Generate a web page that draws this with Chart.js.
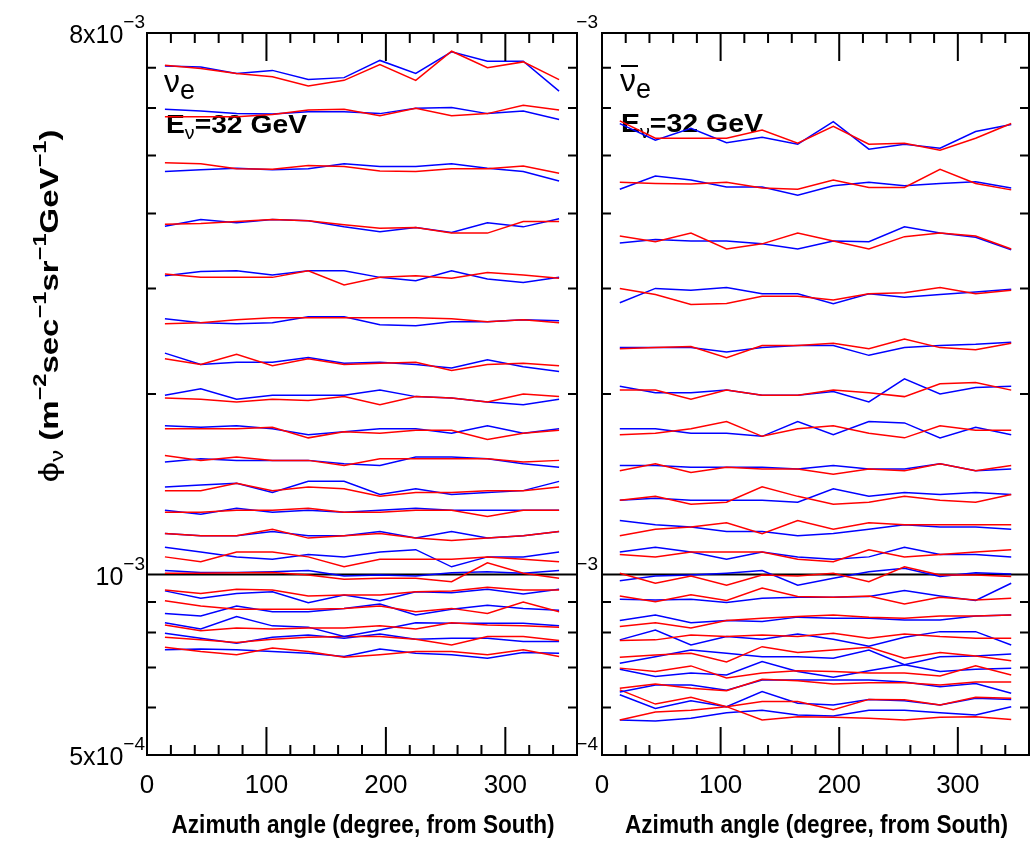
<!DOCTYPE html>
<html>
<head>
<meta charset="utf-8">
<script src="https://cdn.jsdelivr.net/npm/chart.js@4.4.0/dist/chart.umd.min.js"></script>
<style>
  body { margin: 0; background: #fff; }
  #wrap { position: relative; width: 1030px; height: 842px; }
  #wrap canvas { position: absolute; left: 0; top: 0; }
</style>
</head>
<body>
<div id="wrap">
  <canvas id="nue" width="1030" height="842"></canvas>
  <canvas id="nuebar" width="1030" height="842"></canvas>
</div>
<script>
const azimuth = [15, 45, 75, 105, 135, 165, 195, 225, 255, 285, 315, 345];

// flux values in units of 1e-3 m^-2 sec^-1 sr^-1 GeV^-1, one row per curve
const nueRed = [
  [7.07, 6.98, 6.85, 6.76, 6.53, 6.67, 7.09, 6.67, 7.46, 7.00, 7.16, 6.69],
  [5.80, 5.80, 5.80, 5.85, 5.95, 5.97, 5.82, 5.99, 5.82, 5.87, 6.06, 5.95],
  [4.86, 4.84, 4.75, 4.74, 4.81, 4.79, 4.71, 4.70, 4.75, 4.75, 4.80, 4.67],
  [3.84, 3.85, 3.88, 3.91, 3.89, 3.83, 3.78, 3.79, 3.71, 3.71, 3.88, 3.88],
  [3.17, 3.13, 3.13, 3.13, 3.21, 3.04, 3.13, 3.15, 3.12, 3.19, 3.16, 3.12],
  [2.62, 2.63, 2.66, 2.68, 2.68, 2.68, 2.68, 2.68, 2.67, 2.64, 2.66, 2.63],
  [2.29, 2.24, 2.33, 2.23, 2.29, 2.24, 2.25, 2.26, 2.19, 2.24, 2.25, 2.23],
  [1.97, 1.96, 1.94, 1.96, 1.95, 1.98, 1.92, 1.98, 1.97, 1.94, 2.00, 1.98],
  [1.75, 1.75, 1.75, 1.76, 1.69, 1.73, 1.72, 1.74, 1.74, 1.68, 1.72, 1.74],
  [1.58, 1.55, 1.57, 1.55, 1.55, 1.52, 1.56, 1.56, 1.56, 1.56, 1.54, 1.55],
  [1.38, 1.38, 1.42, 1.38, 1.40, 1.39, 1.35, 1.37, 1.37, 1.38, 1.38, 1.40],
  [1.27, 1.27, 1.28, 1.28, 1.29, 1.27, 1.27, 1.28, 1.28, 1.25, 1.28, 1.28],
  [1.17, 1.16, 1.16, 1.19, 1.15, 1.16, 1.17, 1.15, 1.14, 1.15, 1.16, 1.18],
  [1.07, 1.05, 1.09, 1.09, 1.07, 1.03, 1.06, 1.06, 1.06, 1.07, 1.06, 1.05],
  [1.005, 1.005, 1.007, 1.008, 0.998, 0.982, 0.986, 0.986, 0.973, 1.046, 1.005, 0.986],
  [0.942, 0.930, 0.945, 0.942, 0.921, 0.924, 0.924, 0.936, 0.939, 0.952, 0.942, 0.942],
  [0.904, 0.886, 0.875, 0.875, 0.875, 0.878, 0.886, 0.867, 0.878, 0.861, 0.900, 0.867],
  [0.824, 0.806, 0.814, 0.811, 0.814, 0.814, 0.821, 0.811, 0.831, 0.824, 0.821, 0.817],
  [0.786, 0.778, 0.770, 0.780, 0.786, 0.788, 0.788, 0.780, 0.763, 0.788, 0.788, 0.776],
  [0.756, 0.744, 0.735, 0.754, 0.744, 0.728, 0.735, 0.744, 0.744, 0.735, 0.749, 0.730]
];
const nueBlue = [
  [7.05, 7.02, 6.85, 6.93, 6.69, 6.74, 7.20, 6.85, 7.44, 7.18, 7.18, 6.40],
  [5.97, 5.93, 5.87, 5.86, 5.91, 5.91, 5.87, 5.99, 6.01, 5.87, 5.93, 5.74],
  [4.70, 4.73, 4.76, 4.73, 4.75, 4.84, 4.79, 4.79, 4.84, 4.76, 4.70, 4.53],
  [3.81, 3.91, 3.86, 3.91, 3.89, 3.80, 3.73, 3.79, 3.72, 3.86, 3.80, 3.92],
  [3.15, 3.20, 3.21, 3.16, 3.21, 3.21, 3.13, 3.09, 3.21, 3.11, 3.07, 3.13],
  [2.67, 2.63, 2.62, 2.63, 2.69, 2.69, 2.61, 2.60, 2.64, 2.64, 2.66, 2.65],
  [2.34, 2.24, 2.26, 2.26, 2.30, 2.25, 2.26, 2.24, 2.21, 2.28, 2.22, 2.18],
  [1.99, 2.04, 1.96, 1.99, 1.99, 1.99, 2.03, 1.98, 1.97, 1.94, 1.92, 1.96],
  [1.77, 1.76, 1.77, 1.75, 1.71, 1.73, 1.75, 1.75, 1.72, 1.77, 1.72, 1.75],
  [1.54, 1.56, 1.55, 1.55, 1.55, 1.53, 1.52, 1.57, 1.57, 1.56, 1.53, 1.51],
  [1.40, 1.41, 1.42, 1.37, 1.43, 1.43, 1.36, 1.39, 1.36, 1.37, 1.38, 1.43],
  [1.28, 1.26, 1.29, 1.27, 1.28, 1.27, 1.28, 1.29, 1.28, 1.28, 1.28, 1.28],
  [1.17, 1.16, 1.16, 1.18, 1.16, 1.16, 1.18, 1.15, 1.18, 1.15, 1.16, 1.18],
  [1.11, 1.09, 1.07, 1.06, 1.08, 1.07, 1.09, 1.10, 1.03, 1.07, 1.07, 1.09],
  [1.015, 1.008, 1.008, 1.011, 1.015, 0.994, 0.998, 0.994, 1.007, 1.011, 1.005, 1.015],
  [0.939, 0.913, 0.930, 0.936, 0.897, 0.924, 0.904, 0.936, 0.932, 0.945, 0.928, 0.945],
  [0.861, 0.853, 0.886, 0.867, 0.867, 0.878, 0.893, 0.856, 0.875, 0.889, 0.878, 0.872],
  [0.831, 0.811, 0.851, 0.821, 0.817, 0.788, 0.808, 0.831, 0.829, 0.829, 0.829, 0.821],
  [0.798, 0.783, 0.768, 0.786, 0.793, 0.783, 0.796, 0.780, 0.783, 0.783, 0.773, 0.773],
  [0.749, 0.751, 0.749, 0.744, 0.739, 0.730, 0.751, 0.739, 0.735, 0.725, 0.741, 0.739]
];
const nuebarRed = [
  [5.71, 5.34, 5.34, 5.34, 5.51, 5.24, 5.59, 5.22, 5.24, 5.10, 5.34, 5.65],
  [4.51, 4.49, 4.48, 4.51, 4.41, 4.39, 4.55, 4.42, 4.42, 4.74, 4.49, 4.38],
  [3.67, 3.59, 3.71, 3.49, 3.56, 3.71, 3.60, 3.49, 3.66, 3.71, 3.67, 3.49],
  [3.00, 2.93, 2.82, 2.83, 2.91, 2.91, 2.87, 2.94, 2.95, 3.01, 2.94, 2.98],
  [2.38, 2.39, 2.40, 2.30, 2.41, 2.41, 2.43, 2.38, 2.47, 2.39, 2.37, 2.43],
  [2.03, 2.03, 1.96, 2.03, 1.99, 1.99, 2.03, 2.01, 1.98, 2.08, 2.09, 2.03],
  [1.71, 1.72, 1.75, 1.80, 1.70, 1.75, 1.77, 1.72, 1.69, 1.77, 1.74, 1.74],
  [1.49, 1.53, 1.48, 1.51, 1.50, 1.50, 1.47, 1.50, 1.49, 1.53, 1.49, 1.52],
  [1.33, 1.35, 1.31, 1.32, 1.40, 1.35, 1.31, 1.32, 1.35, 1.33, 1.32, 1.36],
  [1.16, 1.19, 1.20, 1.22, 1.17, 1.23, 1.19, 1.22, 1.21, 1.21, 1.21, 1.21],
  [1.08, 1.07, 1.09, 1.09, 1.09, 1.06, 1.05, 1.10, 1.07, 1.08, 1.09, 1.10],
  [1.005, 0.967, 0.994, 0.960, 0.998, 0.994, 1.005, 0.973, 1.030, 0.998, 0.998, 0.992],
  [0.921, 0.901, 0.925, 0.905, 0.949, 0.919, 0.916, 0.921, 0.893, 0.916, 0.907, 0.913],
  [0.819, 0.831, 0.814, 0.838, 0.845, 0.851, 0.856, 0.849, 0.845, 0.853, 0.853, 0.856],
  [0.776, 0.778, 0.793, 0.788, 0.793, 0.788, 0.798, 0.783, 0.796, 0.788, 0.783, 0.783],
  [0.728, 0.734, 0.739, 0.715, 0.758, 0.741, 0.748, 0.756, 0.725, 0.741, 0.731, 0.718],
  [0.698, 0.689, 0.704, 0.672, 0.685, 0.691, 0.689, 0.685, 0.685, 0.677, 0.704, 0.680],
  [0.646, 0.657, 0.646, 0.640, 0.669, 0.665, 0.657, 0.660, 0.660, 0.654, 0.662, 0.662],
  [0.642, 0.608, 0.624, 0.602, 0.614, 0.614, 0.595, 0.619, 0.618, 0.606, 0.624, 0.622],
  [0.572, 0.590, 0.594, 0.602, 0.572, 0.579, 0.578, 0.576, 0.572, 0.578, 0.579, 0.573]
];
const nuebarBlue = [
  [5.65, 5.30, 5.55, 5.25, 5.36, 5.22, 5.69, 5.12, 5.22, 5.14, 5.48, 5.63],
  [4.39, 4.62, 4.55, 4.43, 4.43, 4.29, 4.45, 4.51, 4.45, 4.49, 4.52, 4.41],
  [3.57, 3.62, 3.60, 3.60, 3.56, 3.49, 3.60, 3.59, 3.80, 3.71, 3.65, 3.48],
  [2.84, 3.00, 2.98, 3.01, 2.94, 2.94, 2.83, 2.94, 2.90, 2.93, 2.96, 2.99],
  [2.39, 2.39, 2.39, 2.35, 2.39, 2.41, 2.41, 2.32, 2.39, 2.41, 2.42, 2.44],
  [2.06, 2.01, 2.01, 2.03, 1.99, 1.99, 2.02, 1.94, 2.12, 2.00, 2.05, 2.06],
  [1.75, 1.75, 1.72, 1.72, 1.70, 1.80, 1.71, 1.80, 1.79, 1.69, 1.76, 1.71],
  [1.52, 1.52, 1.51, 1.51, 1.51, 1.50, 1.52, 1.50, 1.50, 1.53, 1.49, 1.50],
  [1.33, 1.34, 1.33, 1.33, 1.33, 1.32, 1.39, 1.35, 1.37, 1.36, 1.37, 1.36],
  [1.23, 1.21, 1.20, 1.18, 1.18, 1.16, 1.17, 1.19, 1.21, 1.20, 1.20, 1.19],
  [1.09, 1.11, 1.09, 1.06, 1.09, 1.07, 1.06, 1.07, 1.11, 1.08, 1.08, 1.07],
  [0.976, 0.994, 0.998, 1.005, 1.015, 0.960, 0.986, 1.011, 1.024, 0.992, 1.007, 1.002],
  [0.909, 0.907, 0.909, 0.898, 0.913, 0.916, 0.916, 0.919, 0.940, 0.921, 0.905, 0.967],
  [0.838, 0.856, 0.831, 0.838, 0.835, 0.849, 0.845, 0.845, 0.840, 0.840, 0.853, 0.856],
  [0.778, 0.808, 0.763, 0.788, 0.780, 0.796, 0.780, 0.759, 0.786, 0.803, 0.803, 0.763],
  [0.711, 0.729, 0.748, 0.739, 0.729, 0.729, 0.725, 0.748, 0.707, 0.729, 0.731, 0.737],
  [0.695, 0.676, 0.685, 0.680, 0.716, 0.689, 0.674, 0.691, 0.707, 0.689, 0.695, 0.698],
  [0.637, 0.654, 0.654, 0.641, 0.667, 0.667, 0.667, 0.667, 0.662, 0.650, 0.658, 0.634],
  [0.630, 0.598, 0.616, 0.602, 0.638, 0.610, 0.606, 0.619, 0.616, 0.606, 0.622, 0.619],
  [0.572, 0.570, 0.576, 0.588, 0.594, 0.583, 0.581, 0.594, 0.594, 0.588, 0.583, 0.602]
];

const xTickLabels = ['0', '100', '200', '300'];
const yLabelValues = [8e-3, 1e-3, 5e-4];
const yLabelMantissa = ['8x10', '10', '5x10'];
const yLabelExponent = ['\u22123', '\u22123', '\u22124'];
const yMinorTicks = [6e-4, 7e-4, 8e-4, 9e-4, 2e-3, 3e-3, 4e-3, 5e-3, 6e-3, 7e-3];

const FONT = '"Liberation Sans", Arial, Helvetica, sans-serif';
const W = 1030, H = 842;

// draws a row of text pieces [text, font, dy]; optional width stretches it
function drawParts(ctx, parts, x, y, align, width) {
  let w = 0;
  parts.forEach(p => { ctx.font = p[1]; w += ctx.measureText(p[0]).width; });
  const s = width ? width / w : 1;
  ctx.save();
  ctx.translate(x, y);
  ctx.scale(s, 1);
  let cx = align === 'center' ? -w / 2 : align === 'right' ? -w : 0;
  ctx.textAlign = 'left';
  ctx.textBaseline = 'alphabetic';
  ctx.fillStyle = '#000';
  parts.forEach(p => {
    ctx.font = p[1];
    ctx.fillText(p[0], cx, p[2] || 0);
    cx += ctx.measureText(p[0]).width;
  });
  ctx.restore();
}

function drawExponentLabels(chart, withMantissa) {
  const { ctx, chartArea: a, scales: { y } } = chart;
  yLabelValues.forEach((v, i) => {
    const py = y.getPixelForValue(v);
    const parts = [];
    if (withMantissa) parts.push([yLabelMantissa[i], '25px ' + FONT, 0]);
    parts.push([yLabelExponent[i], '19px ' + FONT, -15]);
    drawParts(ctx, parts, a.left - (withMantissa ? 2 : 4), py + 10, 'right');
  });
}

const framePlugin = {
  id: 'frame',
  beforeDatasetsDraw(chart) {
    const { ctx, chartArea: a, scales: { y } } = chart;
    const y0 = y.getPixelForValue(1e-3);
    ctx.save();
    ctx.strokeStyle = '#000';
    ctx.lineWidth = 2;
    ctx.beginPath();
    ctx.moveTo(a.left, y0);
    ctx.lineTo(a.right, y0);
    ctx.stroke();
    ctx.restore();
  },
  afterDatasetsDraw(chart) {
    const { ctx, chartArea: a, scales: { x, y } } = chart;
    ctx.save();
    ctx.strokeStyle = '#000';
    ctx.lineWidth = 2;
    ctx.strokeRect(a.left, a.top, a.right - a.left, a.bottom - a.top);
    ctx.beginPath();
    yMinorTicks.forEach(v => {
      const py = y.getPixelForValue(v);
      ctx.moveTo(a.left, py); ctx.lineTo(a.left + 9, py);
      ctx.moveTo(a.right, py); ctx.lineTo(a.right - 9, py);
    });
    for (let v = 20; v < 360; v += 20) {
      const px = x.getPixelForValue(v);
      const len = v % 100 === 0 ? 28 : 10;
      ctx.moveTo(px, a.top); ctx.lineTo(px, a.top + len);
      ctx.moveTo(px, a.bottom); ctx.lineTo(px, a.bottom - len);
    }
    ctx.stroke();

    ctx.fillStyle = '#000';
    ctx.font = '26px ' + FONT;
    ctx.textAlign = 'center';
    ctx.textBaseline = 'middle';
    xTickLabels.forEach(t => ctx.fillText(t, x.getPixelForValue(Number(t)), 786));

    drawParts(ctx, [['Azimuth angle (degree, from South)', 'bold 25px ' + FONT, 0]],
      (a.left + a.right) / 2 + 1, 833, 'center', 383);
    ctx.restore();
  }
};

// panel annotations go under the curves, axis labels on top
const nueText = {
  id: 'nueText',
  beforeDatasetsDraw(chart) {
    const { ctx, chartArea: a } = chart;
    drawParts(ctx, [['\u03bd', '32px ' + FONT, 0], ['e', '27px ' + FONT, 7]], a.left + 17, 92, 'left');
    drawParts(ctx, [['E', 'bold 26px ' + FONT, 0], ['\u03bd', '18px ' + FONT, 6],
      ['=32 GeV', 'bold 26px ' + FONT, 0]], a.left + 19, 133, 'left', 141);
  },
  afterDraw(chart) {
    const { ctx } = chart;
    drawExponentLabels(chart, true);
    ctx.save();
    ctx.translate(58, 306);
    ctx.rotate(-Math.PI / 2);
    drawParts(ctx, [
      ['\u03d5', '28px ' + FONT, 0], ['\u03bd', '18px ' + FONT, 5],
      [' (m', 'bold 25px ' + FONT, 0], ['\u22122', 'bold 18px ' + FONT, -12],
      ['sec', 'bold 25px ' + FONT, 0], ['\u22121', 'bold 18px ' + FONT, -12],
      ['sr', 'bold 25px ' + FONT, 0], ['\u22121', 'bold 18px ' + FONT, -12],
      ['GeV', 'bold 25px ' + FONT, 0], ['\u22121', 'bold 18px ' + FONT, -12],
      [')', 'bold 25px ' + FONT, 0]
    ], 0, 0, 'center', 353);
    ctx.restore();
  }
};

const nuebarText = {
  id: 'nuebarText',
  beforeDatasetsDraw(chart) {
    const { ctx, chartArea: a } = chart;
    drawParts(ctx, [['\u03bd', '32px ' + FONT, 0], ['e', '27px ' + FONT, 7]], a.left + 18, 91, 'left');
    ctx.save();
    ctx.strokeStyle = '#000';
    ctx.lineWidth = 2;
    ctx.beginPath();
    ctx.moveTo(a.left + 19, 66);
    ctx.lineTo(a.left + 36, 66);
    ctx.stroke();
    ctx.restore();
    drawParts(ctx, [['E', 'bold 26px ' + FONT, 0], ['\u03bd', '18px ' + FONT, 6],
      ['=32 GeV', 'bold 26px ' + FONT, 0]], a.left + 19, 132, 'left', 142);
  },
  afterDraw(chart) {
    drawExponentLabels(chart, false);
  }
};

function buildConfig(red, blue, area, textPlugin) {
  const datasets = [];
  red.forEach((row, i) => {
    datasets.push({
      data: row.map((v, j) => ({ x: azimuth[j], y: v * 1e-3 })),
      borderColor: '#ff0000'
    });
    datasets.push({
      data: blue[i].map((v, j) => ({ x: azimuth[j], y: v * 1e-3 })),
      borderColor: '#0000ff'
    });
  });
  return {
    type: 'line',
    data: { datasets: datasets },
    options: {
      responsive: false,
      animation: false,
      events: [],
      layout: { padding: { left: area[0], right: W - area[1], top: area[2], bottom: H - area[3] } },
      elements: {
        point: { radius: 0 },
        line: { borderWidth: 1.5, tension: 0, fill: false }
      },
      plugins: { legend: { display: false }, tooltip: { enabled: false } },
      scales: {
        x: { type: 'linear', min: 0, max: 360, display: false },
        y: { type: 'logarithmic', min: 5e-4, max: 8e-3, display: false }
      }
    },
    plugins: [framePlugin, textPlugin]
  };
}

new Chart(document.getElementById('nue'), buildConfig(nueRed, nueBlue, [147, 577, 33, 755], nueText));
new Chart(document.getElementById('nuebar'), buildConfig(nuebarRed, nuebarBlue, [602, 1029, 33, 755], nuebarText));
</script>
</body>
</html>
